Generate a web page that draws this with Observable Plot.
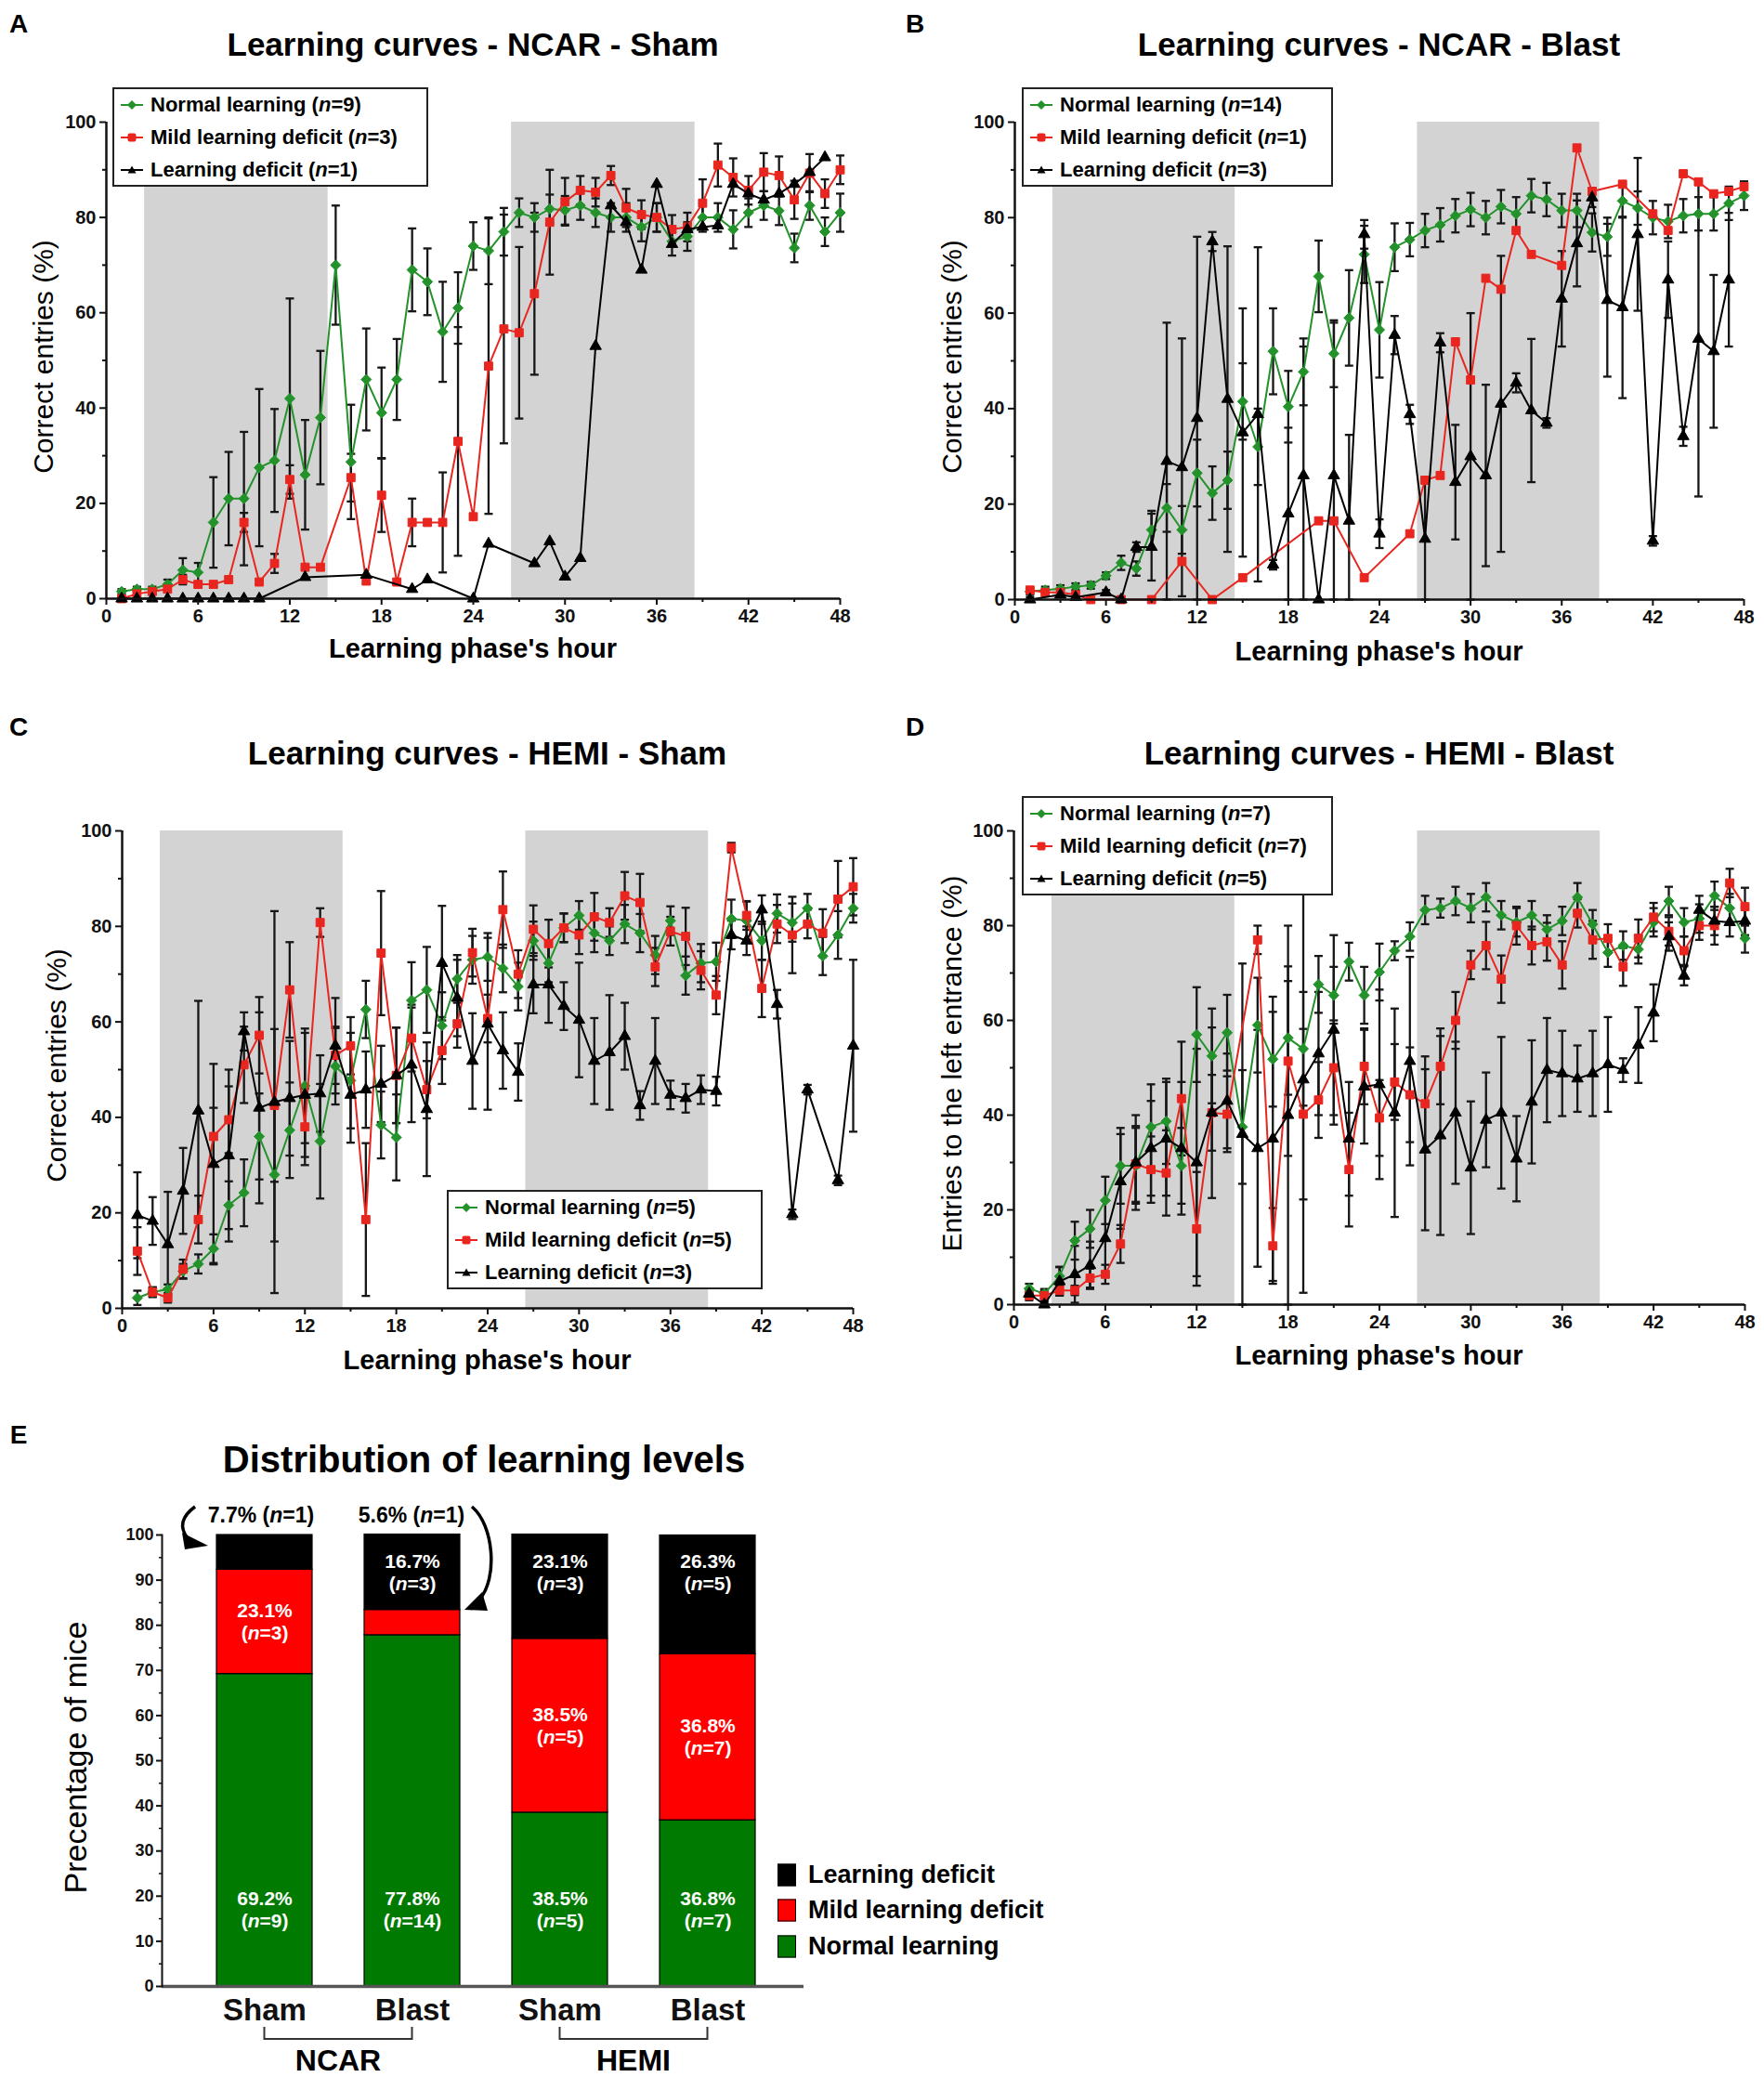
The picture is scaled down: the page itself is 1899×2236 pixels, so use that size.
<!DOCTYPE html>
<html>
<head>
<meta charset="utf-8">
<script src="https://cdn.jsdelivr.net/npm/d3@7"></script>
<script src="https://cdn.jsdelivr.net/npm/@observablehq/plot@0.6"></script>
<style>
html,body{margin:0;padding:0;background:#fff;}
body{width:1899px;height:2236px;position:relative;overflow:hidden;font-family:"Liberation Sans",Arial,Helvetica,sans-serif;color:#000;}
.t{position:absolute;white-space:nowrap;transform:translate(-50%,-50%);line-height:1;}
.legend{position:absolute;background:#fff;border:2px solid #222;box-sizing:border-box;}
.legend .row{position:absolute;left:0;display:flex;align-items:center;font-weight:bold;font-size:22px;white-space:nowrap;transform:translateY(-50%);}
.elegend{position:absolute;display:flex;align-items:center;font-weight:bold;font-size:27px;white-space:nowrap;transform:translateY(-50%);}
.elegend span.sw{display:inline-block;width:20px;height:24px;border:1.5px solid #000;box-sizing:border-box;margin-right:13px;}
</style>
</head>
<body>
<script>
// ---------------- DATA ----------------
const hours = d3.range(1, 49);
const xTicks = [0, 6, 12, 18, 24, 30, 36, 42, 48];
const xMinorTicks = [3, 9, 15, 21, 27, 33, 39, 45];
const yTicks = [0, 20, 40, 60, 80, 100];
const yMinorTicks = [10, 30, 50, 70, 90];
const darkPhases = [{start: 2.5, end: 14.5}, {start: 26.5, end: 38.5}];
const seriesNames = ["Normal learning", "Mild learning deficit", "Learning deficit"];

// Panel A: NCAR - Sham
const A_normal = [1.5,2,2,3,6,5.5,16,21,21,27.5, 29,42,26,38,70,28.7,46,39,46,69, 66.5,56,61,74,73,77,81,80,81.8,81.5, 82.5,81,80,80,78,80,75,76,80,80, 77.5,81,82.5,81.4,73.6,82.5,77,81];
const A_normal_sem = [0.5,0.5,0.5,1,2.5,2,9.5,9.8,14,16.5, 10.8,21,11.5,14,12.5,12,10.7,9.5,8.5,8.7, 7,10.5,7.5,5,7,5,3,3,3,3, 3,3,3,3,3,3,3,3,3,3, 4,3,3,3,3,3,3,4];
const A_mild = [0,1,1.5,2,4,3,3,4,16,3.5, 7.4,25,6.6,6.6,null,25.4,3.7,21.7,3.5,16, 16,16,33,17.2,48.8,56.6,55.8,64,79,83.3, 85.7,85.3,88.8,82,80.6,80,77.5,78,83,91, 88.4,85.7,89.5,88.8,83.7,89.3,85,90];
const A_mild_sem = [0,0.5,0.5,0.5,1,0.5,0.5,0.5,2,0.5, 2,3,0.5,0.5,null,5,0.5,7.7,0.5,5, 0.5,10.5,24,0.5,31,24,18,17,11,5, 3,3,2,4,3,3,3,3,5,4.5, 4,3,4,4,4,4,3,3];
const A_deficit = [0,0,0,0,0,0,0,0,0,0, null,null,4.5,null,null,null,5,null,null,2, 4,null,null,0,11.5,null,null,7.4,12,4.6, 8.5,53,82.5,79,69,87,74.4,77.5,78,78.3, 87,85,83.7,85,87,89.5,92.6,null];

// Panel B: NCAR - Blast
const B_normal = [1.7,2,2.3,2.7,3,5,7.7,6.5,14.6,19.2, 14.6,26.5,22.3,25,41.5,32,52,40.4,47.7,67.7, 51.5,59,72.3,56.5,73.8,75.4,77.3,78.5,80.4,81.7, 80,82.3,80.8,84.6,83.8,81.5,81.5,76.9,76,83.5, 82,80,79.2,80.4,80.8,80.8,83,84.6];
const B_normal_sem = [0.7,0.7,0.7,0.7,0.7,0.7,1.5,1.5,4,5, 5,7,5.6,6,8,8,9,7.5,7,7.5, 7,10,6,10,5,3.5,3.5,3.5,3.5,3.5, 3.5,3.5,3.5,3.5,3.5,3.5,3.5,4,4,3.5, 3.5,3.5,3.5,3.5,3.5,3.5,3.5,3];
const B_mild = [2,1.5,1.5,1,0,null,0,null,0,null, 8,null,0,null,4.6,null,null,null,null,16.5, 16.5,null,4.6,null,null,13.8,25,26,54,46, 67.3,65,77.3,72.3,null,70,94.6,85.5,null,87, null,80.8,77.3,89.2,87.5,85,85.5,86.5];
const B_deficit = [0,null,1,0.5,null,1.5,0,11,11,29, 27.7,38,75,42,35,38.8,7.3,18,26,0, 26,16.5,76.5,13.8,55.4,38.8,12.7,53.8,24.6,30, 26,41,45.4,39.6,37,63,74.6,84.2,62.7,61.2, 76.5,12.3,67,34.2,54.6,52,67,null];
const B_deficit_sem = [0.5,null,0.5,0.5,null,0.5,0.5,1,7,29, 27,38,2,32,26,35,1,18,27,0, 32,18,3,3,4,2,12.7,2,12,30, 19,31,2,15,1,10,9,2,16,19, 16,1,8,2,33,16,14,null];

// Panel C: HEMI - Sham
const C_normal = [2.2,3.4,4,7.8,9.3,12.5,21.6,24.2,36,28, 37.3,46.6,35,50.7,47.7,62.6,38.4,35.8,64.5,66.7, 59.2,69,73,73.6,71.2,67.4,77,72.3,79.7,82.3, 78.6,77,80.5,78.6,74,81.2,69.7,72.3,72.6,81.6, 81.2,77,82.7,80.8,83.8,73.8,78.2,83.8];
const C_normal_sem = [1.5,1,1,1.5,2,3,5,7,9,14, 10,12,12,8,10,6,7,9,8,9, 7,5,5,5,5,5,4,4,3,3, 4,3,4,4,4,3,4,4,4,4, 4,4,4,4,3,4,5,3];
const C_mild = [12,3.4,2.2,8.2,18.6,36,39.5,51,57.2,42.5, 66.7,38,80.8,53,55,18.6,74.4,48.8,56.6,45.8, 54,59.6,74.5,60.7,83.5,70,79.4,76.4,79.7,78.2, 82,80.8,86.4,85,71.5,79,77.9,70.8,65.6,96.5, 82.3,67,80.5,78.2,80.5,78.6,85.7,88.3];
const C_mild_sem = [5,1,1,2,5,6,7,8,8,16, 10,8,3,6,6,16,13,10,7,6, 7,5,5,5,8,5,5,5,3,4, 5,3,5,6,4,3,6,4,4,1, 3,6,4,8,3,5,8,6];
const C_deficit = [19.5,18.3,13.4,24.6,41.4,30.2,32,58,42,43.2, 44,44.7,45,55,44.7,45.8,47,48.8,51,41.7, 72.3,65,51.8,59.6,54,49.5,67.8,67.8,63.3,60.4, 51.8,53.6,57,42.5,51.8,44.7,44,45.8,45.5,78.2, 77,83.5,63.7,19.7,45.8,null,26.8,55];
const C_deficit_sem = [9,5,11,9,23,21,18,4,20,40, 12,13,8,10,10,8,8,10,12,14, 12,8,10,18,8,6,6,8,5,12, 9,12,7,3,9,3,3,3,3,3, 3,3,3,1,1,null,1,18];

// Panel D: HEMI - Blast
const D_normal = [3.4,2.3,6,13.5,16,22,29.3,29.3,37.5,38.7, 29.3,57,52.5,57.4,37.5,59,51.8,56.3,54,67.6, 65.3,72.4,65.3,70.2,74.7,77.7,83.3,83.7,85.2,83.7, 86,82.2,80.7,82.2,79.2,81,86,80.3,74.3,75.8, 75,80.7,85.2,80.7,81.5,86.3,83.7,77.3];
const D_normal_sem = [1,1,2,4,4,5,8,8,9,9, 8,10,10,8,12,10,10,12,12,6, 6,4,6,6,2,3,3,2,3,3, 3,3,3,3,3,3,3,3,3,3, 3,3,3,3,3,3,3,3];
const D_mild = [1.9,1.9,3,3,5.6,6.4,12.8,29.7,28.5,27.8, 43.5,16,40.5,40.2,null,77,12.4,51.4,40.2,43.2, 50,28.5,50.3,39.4,47,44.3,42.4,50.3,60,71.7, 75.8,68.7,80,75.8,76.6,71.7,82.6,77,77.3,71.3, 77.3,81.8,78.8,74.7,80,80,89,84];
const D_mild_sem = [1,1,1,1,2,2,4,8,7,9, 12,12,8,8,null,3,8,20,18,8, 10,12,8,8,8,10,10,8,6,3, 5,5,4,4,4,5,3,4,3,4, 4,3,3,3,3,4,3,4];
const D_deficit = [2.3,0,4.9,6.4,8.3,14,26,30,33,35, 33,30,40.5,43,36,33,35,40,47.5,53, 58,35,46,46.5,40.5,51.4,32.7,35.7,40.5,28.9, 39,40.5,30.8,42.8,49.5,48.8,47.7,48.8,50.7,49.5, 54.8,61.6,77.7,69.4,83.3,81,80.7,81];
const D_deficit_sem = [1,0.5,3,6,5,8,10,10,10,12, 14,24,18,10,36,25,30,40,45,13, 20,12,12,20,22,22,17,21,15,14, 10,16,9,13,11,9,7,9,10,2.5, 8,6,3,2,3,3,3,3];

// Panel E: distribution
const groups = ["NCAR Sham", "NCAR Blast", "HEMI Sham", "HEMI Blast"];
const E_normal = [69.2, 77.8, 38.5, 36.8];
const E_mild = [23.1, 5.6, 38.5, 36.8];
const E_deficit = [7.7, 16.7, 23.1, 26.3];
const E_normal_n = [9, 14, 5, 7];
const E_mild_n = [3, 1, 5, 7];
const E_deficit_n = [1, 3, 3, 5];
const eTicks = [0,10,20,30,40,50,60,70,80,90,100];
const eMinorTicks = [5,15,25,35,45,55,65,75,85,95];

// ---------------- STYLE ----------------
const GREEN = "#23922b", RED = "#e8261f", BLACK = "#000000";
const BAR_GREEN = "#007a00", BAR_RED = "#ff0000", BAR_BLACK = "#000000";
const FONT = "'Liberation Sans', Arial, Helvetica, sans-serif";
const symbols = ["diamond2", "square", "triangle"];
const colors = [GREEN, RED, BLACK];
const radii = [5, 5, 4.6];
const capSymbol = {draw(ctx, size) { const w = Math.sqrt(size / Math.PI); ctx.moveTo(-w, 0); ctx.lineTo(w, 0); }};

function addText(html, x, y, o = {}) {
  const d = document.createElement("div");
  d.className = "t";
  d.innerHTML = html;
  d.style.left = x + "px"; d.style.top = y + "px";
  d.style.fontSize = (o.size || 20) + "px";
  d.style.fontWeight = o.weight || "normal";
  if (o.rotate) d.style.transform = "translate(-50%,-50%) rotate(" + o.rotate + "deg)";
  document.body.appendChild(d);
  return d;
}

function markerSvg(i) {
  const c = colors[i];
  let shape;
  if (i === 0) shape = `<polygon points="15,3 20,8 15,13 10,8" fill="${c}"/>`;
  else if (i === 1) shape = `<rect x="10.5" y="3.5" width="9" height="9" rx="2" fill="${c}"/>`;
  else shape = `<polygon points="15,3.5 19.5,11.5 10.5,11.5" fill="${c}"/>`;
  return `<svg width="30" height="16" style="margin-right:5px"><line x1="3" y1="8" x2="27" y2="8" stroke="${c}" stroke-width="2"/>${shape}</svg>`;
}

function addLegend(x, y, w, ns) {
  const box = document.createElement("div");
  box.className = "legend";
  box.style.left = x + "px"; box.style.top = y + "px";
  box.style.width = w + "px"; box.style.height = "107px";
  const rowY = [17, 52, 87];
  seriesNames.forEach((name, i) => {
    const r = document.createElement("div");
    r.className = "row";
    r.style.top = rowY[i] + "px"; r.style.left = "4px";
    r.innerHTML = markerSvg(i) + `<span>${name} (<i>n</i>=${ns[i]})</span>`;
    box.appendChild(r);
  });
  document.body.appendChild(box);
}

function curvePanel(p) {
  const mL = 70, mR = 20, mT = 20, mB = 40;
  const W = p.fx1 - p.fx0 + mL + mR, H = p.fy0 - p.fy1 + mT + mB;
  const marks = [Plot.rect(darkPhases, {x1: "start", x2: "end", y1: 0, y2: 100, fill: "#d3d3d3"})];
  p.series.forEach(s => {
    if (!s.sem) return;
    const eb = [];
    hours.forEach((h, i) => {
      const v = s.values[i], e = s.sem[i];
      if (v != null && e != null && e > 0) eb.push({h, lo: Math.max(0, v - e), hi: v + e});
    });
    marks.push(Plot.ruleX(eb, {x: "h", y1: "lo", y2: "hi", stroke: "#161616", strokeWidth: 2.3}));
    marks.push(Plot.dot(eb, {x: "h", y: "lo", symbol: capSymbol, r: 4.5, fill: "none", stroke: "#161616", strokeWidth: 2.3}));
    marks.push(Plot.dot(eb, {x: "h", y: "hi", symbol: capSymbol, r: 4.5, fill: "none", stroke: "#161616", strokeWidth: 2.3}));
  });
  p.series.forEach((s, k) => {
    const pts = hours.map((h, i) => ({h, v: s.values[i]})).filter(d => d.v != null);
    marks.push(Plot.line(pts, {x: "h", y: "v", stroke: colors[k], strokeWidth: 2}));
    marks.push(Plot.dot(pts, {x: "h", y: "v", symbol: symbols[k], r: radii[k], fill: colors[k], stroke: colors[k], strokeWidth: 1}));
  });
  marks.push(
    Plot.ruleY([0], {stroke: "#111", strokeWidth: 2.5}),
    Plot.ruleX([0], {stroke: "#111", strokeWidth: 2.5}),
    Plot.axisX({ticks: xTicks, tickSize: 7, tickPadding: 4, strokeWidth: 2, label: null}),
    Plot.axisX({ticks: xMinorTicks, tickSize: 4, strokeWidth: 2, tickFormat: () => "", label: null}),
    Plot.axisY({ticks: yTicks, tickSize: 7, tickPadding: 4, strokeWidth: 2, label: null}),
    Plot.axisY({ticks: yMinorTicks, tickSize: 4, strokeWidth: 2, tickFormat: () => "", label: null})
  );
  const svg = Plot.plot({
    width: W, height: H, marginLeft: mL, marginRight: mR, marginTop: mT, marginBottom: mB,
    x: {domain: [0, 48], label: null},
    y: {domain: [0, 100], label: null},
    style: {fontFamily: FONT, fontSize: "20px", fontWeight: "bold", background: "transparent", overflow: "visible", color: "#111"},
    marks
  });
  svg.style.position = "absolute";
  svg.style.left = (p.fx0 - mL) + "px";
  svg.style.top = (p.fy1 - mT) + "px";
  document.body.appendChild(svg);
  const cx = (p.fx0 + p.fx1) / 2;
  addText(p.letter, p.letterPos[0], p.letterPos[1], {size: 28, weight: "bold"});
  addText(p.title, cx, p.titleY, {size: 35, weight: "bold"});
  addText("Learning phase's hour", cx, p.xlabelY, {size: 29, weight: "bold"});
  addText(p.ylabel, p.ylabelX, (p.fy0 + p.fy1) / 2 - 4, {size: 30, rotate: -90});
  addLegend(p.legend[0], p.legend[1], p.legend[2], p.ns);
}

const panels = [
  {letter: "A", title: "Learning curves - NCAR - Sham", fx0: 114, fx1: 904, fy1: 131, fy0: 644,
   letterPos: [20, 26], titleY: 47, xlabelY: 698, ylabel: "Correct entries (%)", ylabelX: 47,
   legend: [121, 94, 340], ns: [9, 3, 1],
   series: [{values: A_normal, sem: A_normal_sem}, {values: A_mild, sem: A_mild_sem}, {values: A_deficit, sem: null}]},
  {letter: "B", title: "Learning curves - NCAR - Blast", fx0: 1092, fx1: 1877, fy1: 131, fy0: 645,
   letterPos: [985, 26], titleY: 47, xlabelY: 701, ylabel: "Correct entries (%)", ylabelX: 1025,
   legend: [1100, 94, 335], ns: [14, 1, 3],
   series: [{values: B_normal, sem: B_normal_sem}, {values: B_mild, sem: null}, {values: B_deficit, sem: B_deficit_sem}]},
  {letter: "C", title: "Learning curves - HEMI - Sham", fx0: 131, fx1: 918, fy1: 894, fy0: 1408,
   letterPos: [20, 783], titleY: 810, xlabelY: 1464, ylabel: "Correct entries (%)", ylabelX: 61,
   legend: [481, 1281, 340], ns: [5, 5, 3],
   series: [{values: C_normal, sem: C_normal_sem}, {values: C_mild, sem: C_mild_sem}, {values: C_deficit, sem: C_deficit_sem}]},
  {letter: "D", title: "Learning curves - HEMI - Blast", fx0: 1091, fx1: 1878, fy1: 894, fy0: 1404,
   letterPos: [985, 783], titleY: 810, xlabelY: 1459, ylabel: "Entries to the left entrance (%)", ylabelX: 1025,
   legend: [1100, 857, 335], ns: [7, 7, 5],
   series: [{values: D_normal, sem: D_normal_sem}, {values: D_mild, sem: D_mild_sem}, {values: D_deficit, sem: D_deficit_sem}]}
];
panels.forEach(curvePanel);

// ---------------- PANEL E ----------------
const levelColor = {"Normal learning": BAR_GREEN, "Mild learning deficit": BAR_RED, "Learning deficit": BAR_BLACK};
const eData = [];
const eLabels = [];
groups.forEach((g, i) => {
  eData.push({group: g, level: "Normal learning", value: E_normal[i]});
  eData.push({group: g, level: "Mild learning deficit", value: E_mild[i]});
  eData.push({group: g, level: "Learning deficit", value: E_deficit[i]});
  eLabels.push({group: g, y: 17, pct: E_normal[i].toFixed(1) + "%", n: "(n=" + E_normal_n[i] + ")"});
  if (E_mild[i] >= 10) eLabels.push({group: g, y: E_normal[i] + E_mild[i] / 2, pct: E_mild[i].toFixed(1) + "%", n: "(n=" + E_mild_n[i] + ")"});
  if (E_deficit[i] >= 10) eLabels.push({group: g, y: 91.7, pct: E_deficit[i].toFixed(1) + "%", n: "(n=" + E_deficit_n[i] + ")"});
});

const eLeft = 0, eTop = 1600, emL = 174, emT = 52, emR = 34, frameBottom = 2138;
const eW = 865 + emR, eH = frameBottom - eTop + 70;
const ePlot = Plot.plot({
  width: eW, height: eH, marginLeft: emL, marginRight: emR, marginTop: emT, marginBottom: 70,
  x: {domain: groups, paddingInner: 0.35, paddingOuter: 0.335, align: 0.53, label: null},
  y: {domain: [0, 100], label: null},
  style: {fontFamily: FONT, fontSize: "18px", fontWeight: "bold", background: "transparent", overflow: "visible", color: "#111"},
  marks: [
    Plot.barY(eData, {x: "group", y: "value", fill: d => levelColor[d.level], stroke: "#000", strokeWidth: 1.2}),
    Plot.text(eLabels, {x: "group", y: "y", text: "pct", dy: -12, fill: "white", fontSize: 21, fontWeight: "bold"}),
    Plot.text(eLabels, {x: "group", y: "y", text: "n", dy: 12, fill: "white", fontSize: 21, fontWeight: "bold"}),
    Plot.ruleY([0], {stroke: "#555", strokeWidth: 3.5}),
    Plot.frame({anchor: "left", stroke: "#111", strokeWidth: 2}),
    Plot.axisY({ticks: eTicks, tickSize: 6, tickPadding: 3, strokeWidth: 2, label: null}),
    Plot.axisY({ticks: eMinorTicks, tickSize: 3, strokeWidth: 1.5, tickFormat: () => "", label: null}),
    Plot.axisX({tickSize: 0, tickPadding: 13, fontSize: 33, fontWeight: "bold", tickFormat: d => d.split(" ")[1], label: null})
  ]
});
ePlot.style.position = "absolute";
ePlot.style.left = eLeft + "px";
ePlot.style.top = eTop + "px";
document.body.appendChild(ePlot);

// italic n in bar labels (works on the innermost text nodes)
d3.select(ePlot).selectAll("text, tspan").each(function () {
  if (this.children.length) return;
  const m = this.textContent.match(/^\(n=(.*)\)$/);
  if (!m) return;
  const sel = d3.select(this); sel.text(null);
  sel.append("tspan").text("(");
  sel.append("tspan").attr("font-style", "italic").text("n");
  sel.append("tspan").text("=" + m[1] + ")");
});

addText("E", 20, 1545, {size: 28, weight: "bold"});
addText("Distribution of learning levels", 521, 1571, {size: 40, weight: "bold"});
addText("Precentage of mice", 81, 1892, {size: 34, rotate: -90});
addText("7.7% (<i>n</i>=1)", 281, 1631, {size: 23, weight: "bold"});
addText("5.6% (<i>n</i>=1)", 443, 1631, {size: 23, weight: "bold"});

// group brackets from the band scale
const xs = ePlot.scale("x");
const center = g => eLeft + xs.apply(g) + xs.bandwidth / 2;
const over = d3.select(document.body).append("svg")
  .attr("width", 1899).attr("height", 2236)
  .style("position", "absolute").style("left", "0px").style("top", "0px").style("pointer-events", "none");
[["NCAR Sham", "NCAR Blast", "NCAR"], ["HEMI Sham", "HEMI Blast", "HEMI"]].forEach(([a, b, lab]) => {
  const x1 = center(a), x2 = center(b);
  over.append("path").attr("d", `M${x1},2182 V2195 H${x2} V2182`).attr("fill", "none").attr("stroke", "#333").attr("stroke-width", 2);
  addText(lab, (x1 + x2) / 2, 2218, {size: 32, weight: "bold"});
});
// annotation arrows
over.append("path").attr("d", "M210,1622 Q188,1638 202,1656").attr("fill", "none").attr("stroke", "#000").attr("stroke-width", 3.5);
over.append("path").attr("d", "M196,1650 L224,1664 L199,1668 Z").attr("fill", "#000");
over.append("path").attr("d", "M508,1622 C532,1642 536,1700 516,1722").attr("fill", "none").attr("stroke", "#000").attr("stroke-width", 3.5);
over.append("path").attr("d", "M500,1733 L519,1714 L525,1734 Z").attr("fill", "#000");

// legend E
[["Learning deficit", 2018], ["Mild learning deficit", 2056], ["Normal learning", 2095]].forEach(([name, y]) => {
  const d = document.createElement("div");
  d.className = "elegend";
  d.style.left = "837px"; d.style.top = y + "px";
  d.innerHTML = `<span class="sw" style="background:${levelColor[name]}"></span>${name}`;
  document.body.appendChild(d);
});
</script>
</body>
</html>
